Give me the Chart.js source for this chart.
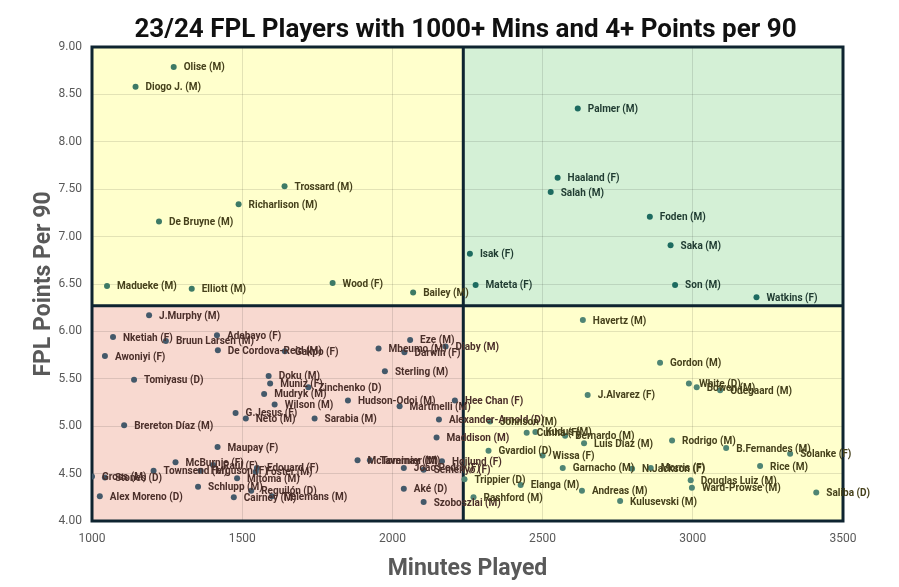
<!DOCTYPE html>
<html><head><meta charset="utf-8">
<script src="https://cdn.jsdelivr.net/npm/chart.js@4/dist/chart.umd.min.js"></script>
<style>html,body{margin:0;padding:0;background:#fff}#wrap{width:899px;height:587px;position:relative}</style>
</head><body><div id="wrap"><canvas id="c" width="899" height="587"></canvas></div>
<script>
const chartTitle = '23/24 FPL Players with 1000+ Mins and 4+ Points per 90';
const xAxisTitle = 'Minutes Played';
const yAxisTitle = 'FPL Points Per 90';

const players = [
 'Olise (M)','Diogo J. (M)','Trossard (M)','Richarlison (M)','De Bruyne (M)','Madueke (M)','Elliott (M)','Wood (F)','Bailey (M)',
 'Isak (F)','Mateta (F)','Palmer (M)','Haaland (F)','Salah (M)','Foden (M)','Saka (M)','Son (M)','Watkins (F)',
 'J.Murphy (M)','Nketiah (F)','Bruun Larsen (M)','Adebayo (F)','De Cordova-Reid (M)','Awoniyi (F)','Tomiyasu (D)',
 'Doku (M)','Muniz (F)','Mudryk (M)','Wilson (M)','Eze (M)','Gakpo (F)','Mbeumo (M)','Darwin (F)','Diaby (M)',
 'Sterling (M)','Zinchenko (D)','Hudson-Odoi (M)','Martinelli (M)','Hee Chan (F)','G.Jesus (F)','Neto (M)',
 'Brereton Díaz (M)','Maupay (F)','McBurnie (F)','Raúl (F)','Townsend (M)','Ferguson (F)','Edouard (F)','Foster (M)',
 'Mitoma (M)','Gross (M)','Stones (D)','Alex Moreno (D)','Schlupp (M)','Cairney (M)','Reguilón (D)','Tielemans (M)',
 'Sarabia (M)','Alexander-Arnold (D)','Maddison (M)','McTominay (M)','Tavernier (M)','Højlund (F)','João Pedro (F)',
 'Semenyo (F)','Aké (D)','Szoboszlai (M)','Trippier (D)','Rashford (M)','Johnson (M)','Cunha (F)','Kudus (M)',
 'Bernardo (M)','Luis Díaz (M)','Gvardiol (D)','Wissa (F)','Garnacho (M)','Elanga (M)','Andreas (M)','Kulusevski (M)',
 'N.Jackson (F)','Morris (F)','Havertz (M)','J.Alvarez (F)','Gordon (M)','White (D)','Bowen (M)','Odegaard (M)',
 'Rodrigo (M)','B.Fernandes (M)','Solanke (F)','Rice (M)','Douglas Luiz (M)','Ward-Prowse (M)','Saliba (D)'
];
const minutesPlayed = [
 1272,1145,1641,1488,1223,1050,1332,1801,2069,
 2258,2277,2617,2550,2527,2857,2926,2941,3212,
 1190,1070,1246,1416,1419,1043,1140,
 1588,1593,1573,1608,2059,1642,1954,2040,2177,
 1975,1720,1852,2024,2208,1478,1512,
 1107,1418,1278,1403,1205,1362,1549,1545,
 1483,1000,1043,1026,1353,1472,1530,1599,
 1741,2155,2147,1884,1925,2165,2038,
 2104,2038,2104,2240,2270,2325,2447,2476,
 2575,2638,2320,2500,2567,2427,2631,2758,
 2798,2860,2634,2650,2891,2987,3013,3091,
 2931,3111,3324,3224,2993,2997,3411
];
const pointsPer90 = [
 8.79,8.58,7.53,7.34,7.16,6.48,6.45,6.51,6.41,
 6.82,6.49,8.35,7.62,7.47,7.21,6.91,6.49,6.36,
 6.17,5.94,5.90,5.96,5.80,5.74,5.49,
 5.53,5.45,5.34,5.23,5.91,5.79,5.82,5.78,5.84,
 5.58,5.41,5.27,5.21,5.27,5.14,5.08,
 5.01,4.78,4.62,4.59,4.53,4.53,4.56,4.52,
 4.45,4.47,4.46,4.26,4.36,4.25,4.32,4.26,
 5.08,5.07,4.88,4.64,4.64,4.63,4.56,
 4.54,4.34,4.20,4.44,4.25,5.05,4.93,4.94,
 4.90,4.82,4.74,4.69,4.56,4.38,4.32,4.21,
 4.55,4.56,6.12,5.33,5.67,5.45,5.41,5.38,
 4.85,4.77,4.71,4.58,4.43,4.35,4.30
];
const xTickValues = [1000,1500,2000,2500,3000,3500];
const yTickValues = [4.0,4.5,5.0,5.5,6.0,6.5,7.0,7.5,8.0,8.5,9.0];
const splitMinutes = 2236;
const splitPoints = 6.27;

const quadrantFill = {tl:'#ffffcc', tr:'#d4f0d6', bl:'#f8d9d0', br:'#ffffcc'};
const quadrantPoint = {tl:'#3d7a66', tr:'#1d6b60', bl:'#44596a', br:'#4f8574'};
const quadrantText = {tl:'#46411c', tr:'#1f3b31', bl:'#4b2f2a', br:'#46411c'};
function quad(x,y){ return (y>=splitPoints ? 't':'b') + (x>=splitMinutes ? 'r':'l'); }

const points = minutesPlayed.map((m,i)=>({x:m, y:pointsPer90[i]}));

function fitText(ctx, text, x, y, targetW){
  const w = ctx.measureText(text).width;
  const s = Math.min(1, targetW / w);
  ctx.save(); ctx.translate(x,y); ctx.scale(s,1); ctx.fillText(text,0,0); ctx.restore();
}

const quadPlugin = {
  id:'quads',
  beforeDraw(chart){
    const {ctx, chartArea:a, scales:{x,y}} = chart;
    const sx = x.getPixelForValue(splitMinutes), sy = y.getPixelForValue(splitPoints);
    ctx.save();
    ctx.fillStyle = quadrantFill.tl; ctx.fillRect(a.left,a.top,sx-a.left,sy-a.top);
    ctx.fillStyle = quadrantFill.tr; ctx.fillRect(sx,a.top,a.right-sx,sy-a.top);
    ctx.fillStyle = quadrantFill.bl; ctx.fillRect(a.left,sy,sx-a.left,a.bottom-sy);
    ctx.fillStyle = quadrantFill.br; ctx.fillRect(sx,sy,a.right-sx,a.bottom-sy);
    ctx.restore();
  },
  beforeDatasetsDraw(chart){
    const {ctx, chartArea:a, scales:{x,y}} = chart;
    const sx = x.getPixelForValue(splitMinutes), sy = y.getPixelForValue(splitPoints);
    ctx.save();
    ctx.strokeStyle = '#0e2430'; ctx.lineWidth = 3;
    ctx.strokeRect(a.left,a.top,a.right-a.left,a.bottom-a.top);
    ctx.beginPath(); ctx.moveTo(sx,a.top); ctx.lineTo(sx,a.bottom);
    ctx.moveTo(a.left,sy); ctx.lineTo(a.right,sy); ctx.stroke();
    ctx.restore();
  },
  afterDatasetsDraw(chart){
    const ctx = chart.ctx;
    const meta = chart.getDatasetMeta(0);
    ctx.save();
    ctx.font = 'bold 10px Roboto';
    ctx.textBaseline = 'middle'; ctx.textAlign = 'left';
    meta.data.forEach((el,i)=>{
      ctx.fillStyle = quadrantText[quad(points[i].x, points[i].y)];
      ctx.fillText(players[i], el.x + 10, el.y + 1);
    });
    const a = chart.chartArea;
    const cx = (a.left + a.right)/2, cy = (a.top + a.bottom)/2;
    ctx.textAlign = 'left'; ctx.textBaseline = 'alphabetic';
    ctx.fillStyle = '#111111';
    ctx.font = 'bold 26px Roboto';
    let w = Math.min(664, ctx.measureText(chartTitle).width);
    fitText(ctx, chartTitle, cx - w/2 - 2, 37, 664);
    ctx.fillStyle = '#595959';
    ctx.font = 'bold 23px Roboto';
    w = Math.min(160, ctx.measureText(xAxisTitle).width);
    fitText(ctx, xAxisTitle, cx - w/2, 575, 160);
    w = Math.min(217, ctx.measureText(yAxisTitle).width);
    ctx.save(); ctx.translate(50, cy + w/2); ctx.rotate(-Math.PI/2);
    fitText(ctx, yAxisTitle, 0, 0, 217);
    ctx.restore();
    ctx.restore();
  }
};

new Chart(document.getElementById('c'), {
  type:'scatter',
  data:{datasets:[{
    data: points,
    pointRadius: 3,
    pointHoverRadius: 3,
    pointBorderWidth: 0,
    backgroundColor: c => quadrantPoint[quad(c.raw.x, c.raw.y)],
    borderColor: c => quadrantPoint[quad(c.raw.x, c.raw.y)]
  }]},
  options:{
    responsive:false, animation:false, devicePixelRatio:1,
    layout:{padding:{top:47, right:56, bottom:0, left:0}},
    plugins:{legend:{display:false}, tooltip:{enabled:false}, title:{display:false}},
    scales:{
      x:{type:'linear', min:1000, max:3500,
         afterBuildTicks: s => { s.ticks = xTickValues.map(v=>({value:v})); },
         afterFit: s => { s.height = 66; },
         grid:{color:'rgba(0,0,0,0.11)', drawTicks:false, lineWidth:1},
         border:{display:false},
         ticks:{padding:11, color:'#595959', font:{family:'Roboto', size:12}, callback:v=>String(v)}},
      y:{type:'linear', min:4, max:9,
         afterBuildTicks: s => { s.ticks = yTickValues.map(v=>({value:v})); },
         afterFit: s => { s.width = 92; },
         grid:{color:'rgba(0,0,0,0.11)', drawTicks:false, lineWidth:1},
         border:{display:false},
         ticks:{padding:10, color:'#595959', font:{family:'Roboto', size:12}, callback:v=>Number(v).toFixed(2)}}
    }
  },
  plugins:[quadPlugin]
});
</script></body></html>
